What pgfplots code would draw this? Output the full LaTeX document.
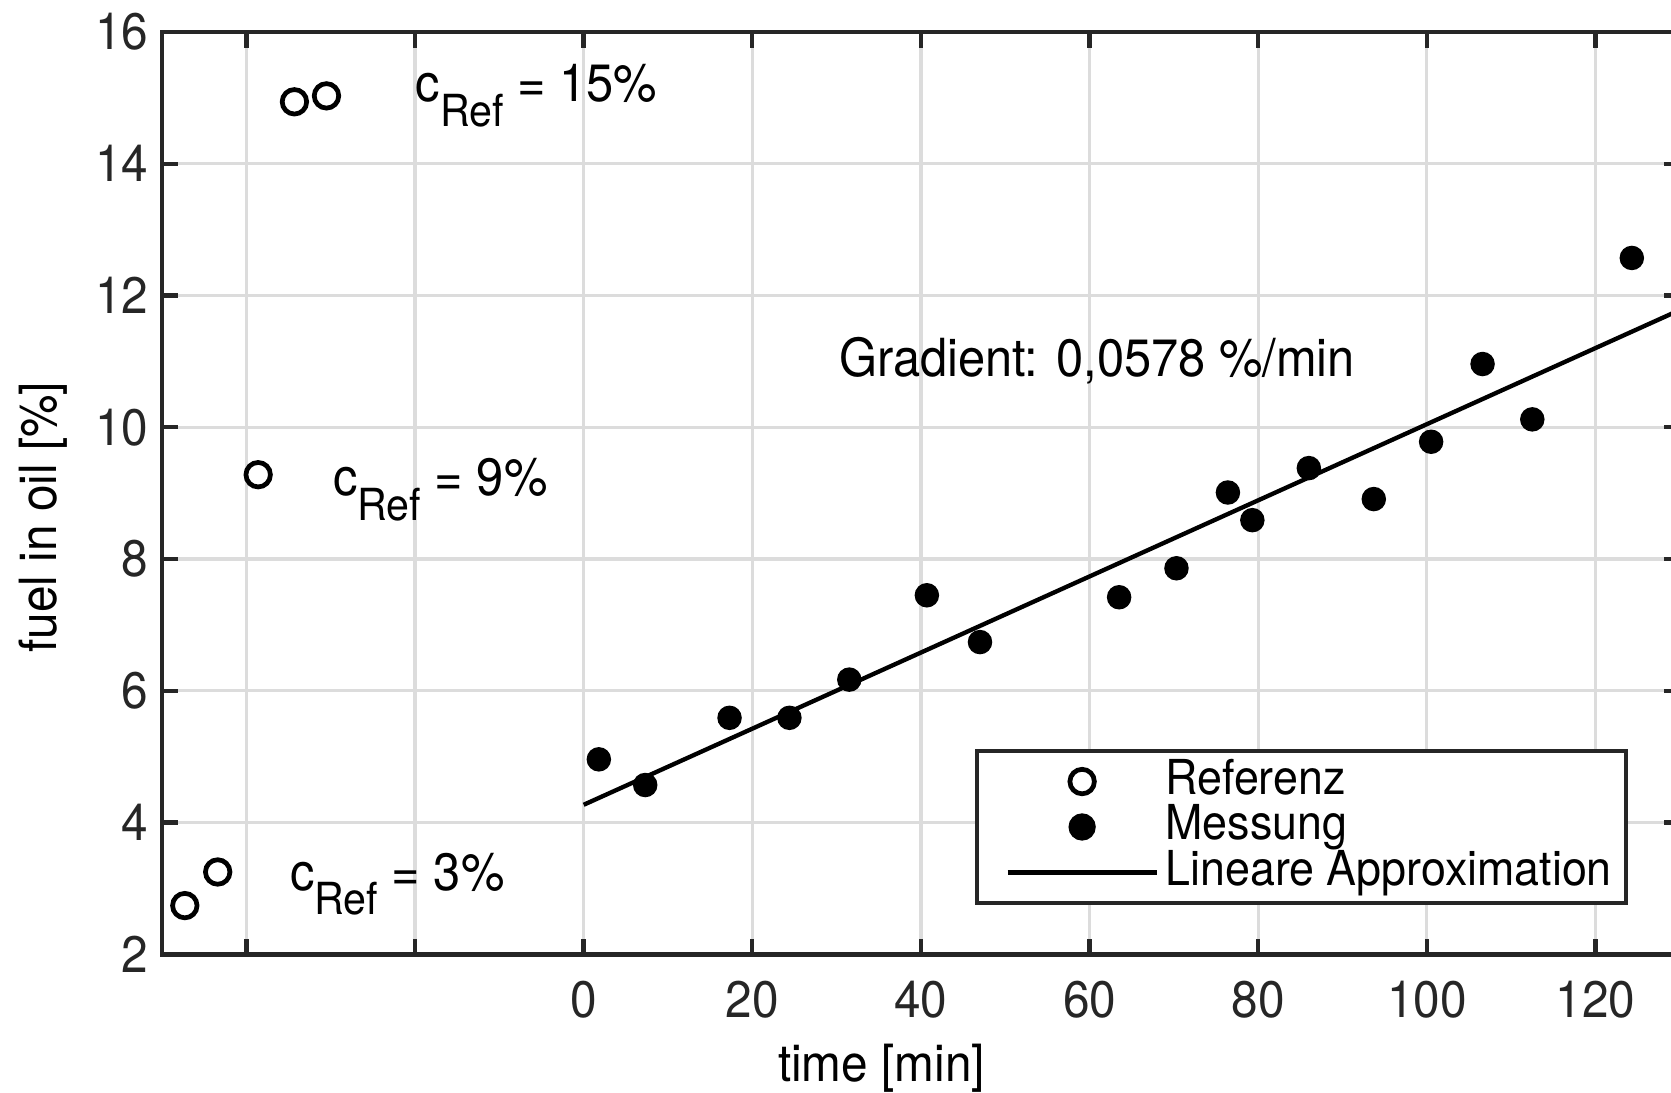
\documentclass[border=0pt]{standalone}
\usepackage{fontspec}
\setmainfont{TeX Gyre Heros}[FakeStretch=0.93]
\usepackage{pgfplots}
\pgfplotsset{compat=1.18}
\definecolor{axgray}{RGB}{38,38,38}
\definecolor{gridgray}{RGB}{220,220,220}
\pgfplotsset{
  mylegmark/.style={legend image code/.code={\path[draw=none,fill=none] (-4.1pt,0pt) (40pt,0pt);\draw[mark repeat=2,mark phase=2,##1] plot coordinates {(0pt,0pt) (18.9pt,0pt) (37.8pt,0pt)};}},
  myleglin/.style={legend image code/.code={\path[draw=none,fill=none] (-4.1pt,0pt) (40pt,0pt);\draw[##1] (0pt,0pt) -- (37.8pt,0pt);}},
}
\begin{document}
\begin{tikzpicture}
\begin{axis}[
  scale only axis,
  width=384.4pt, height=233.6pt,
  xmin=-50, xmax=130, ymin=2, ymax=16,
  xtick={-40,-20,0,20,40,60,80,100,120},
  xticklabels={{},{},0,20,40,60,80,100,120},
  ytick={2,4,...,16},
  tick align=inside,
  major tick length=4pt,
  axis line style={axgray, line width=1.1pt},
  every tick/.style={axgray, line width=1.1pt},
  grid=major,
  major grid style={gridgray, line width=0.8pt},
  tick label style={font=\fontsize{13}{13}\selectfont, text=axgray},
  xticklabel style={yshift=-3.2pt},
  /pgf/number format/assume math mode=true,
  xlabel={time [min]}, ylabel={fuel in oil [\%]},
  label style={font=\fontsize{13}{13}\selectfont},
  xlabel style={at={(axis description cs:0.474,-0.1237)}, anchor=center},
  ylabel style={at={(axis description cs:-0.0786,0.474)}, anchor=center},
  legend cell align=left,
  legend style={at={(axis cs:46.4,5.12)}, anchor=north west, draw=axgray, line width=1.1pt,
    font=\fontsize{12.2}{12.2}\selectfont, inner xsep=3.6pt, inner ysep=2pt,
    nodes={inner sep=0pt, text height=9pt, text depth=2.5pt}, row sep=0pt},
]
\addplot[only marks, mark=o, mark size=3.1pt, mark options={line width=1.2pt, black}, mylegmark]
  coordinates {(-47.3,2.74) (-43.4,3.25) (-38.6,9.28) (-34.3,14.94) (-30.5,15.03)};
\addlegendentry{Referenz}
\addplot[only marks, mark=*, mark size=2.9pt, mark options={black, fill=black}, mylegmark]
  coordinates {(1.8,4.96) (7.3,4.57) (17.3,5.59) (24.4,5.59) (31.5,6.17) (40.7,7.45) (47.0,6.74)
    (63.5,7.42) (70.3,7.86) (76.4,9.01) (79.3,8.59) (86.0,9.38) (93.7,8.91) (100.5,9.78)
    (106.6,10.96) (112.5,10.12) (124.3,12.57)};
\addlegendentry{Messung}
\addplot[black, line width=1.1pt, myleglin]
  coordinates {(0,4.27) (130,11.78)};
\addlegendentry{Lineare Approximation}
\node[anchor=base west, inner sep=0pt, font=\fontsize{13.3}{13.3}\selectfont] at (axis cs:-20,14.94)
  {c\raisebox{-6.2pt}{\fontsize{11.2}{11.2}\selectfont Ref} = 15\%};
\node[anchor=base west, inner sep=0pt, font=\fontsize{13.3}{13.3}\selectfont] at (axis cs:-29.8,8.96)
  {c\raisebox{-6.2pt}{\fontsize{11.2}{11.2}\selectfont Ref} = 9\%};
\node[anchor=base west, inner sep=0pt, font=\fontsize{13.3}{13.3}\selectfont] at (axis cs:-34.9,2.97)
  {c\raisebox{-6.2pt}{\fontsize{11.2}{11.2}\selectfont Ref} = 3\%};
\node[anchor=base west, inner sep=0pt, font=\fontsize{13.3}{13.3}\selectfont] at (axis cs:30.2,10.77)
  {Gradient: 0,0578 \%/min};
\coordinate (R) at (axis cs:128.95,16);
\end{axis}
\pgfresetboundingbox
\path[use as bounding box] ([shift={(-41.04pt,-35.1pt)}]current axis.south west) rectangle ([yshift=8.1pt]R);
\end{tikzpicture}
\end{document}
